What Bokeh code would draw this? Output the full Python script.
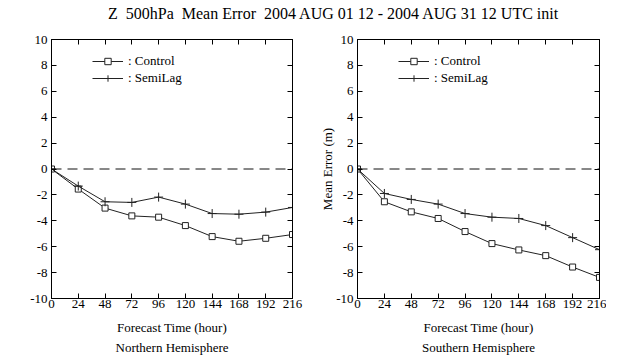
from bokeh.plotting import figure
from bokeh.models import (Legend, LegendItem, LinearAxis, FixedTicker, Span,
                          Title, Div, Range1d)
from bokeh.layouts import row, column
from bokeh.embed import file_html
from bokeh.resources import INLINE

hours = [0, 24, 48, 72, 96, 120, 144, 168, 192, 216]
y_ticks = [-10, -8, -6, -4, -2, 0, 2, 4, 6, 8, 10]
y_tick_labels = ["-10", "-8", "-6", "-4", "-2", "0", "2", "4", "6", "8", "10"]

nh_control = [0.0, -1.55, -3.02, -3.62, -3.72, -4.37, -5.22, -5.58, -5.35, -5.06]
nh_semilag = [0.0, -1.32, -2.53, -2.58, -2.17, -2.71, -3.44, -3.49, -3.33, -2.97]
sh_control = [0.0, -2.53, -3.31, -3.82, -4.83, -5.76, -6.25, -6.69, -7.57, -8.37]
sh_semilag = [0.0, -1.89, -2.35, -2.71, -3.44, -3.72, -3.82, -4.37, -5.30, -6.23]

title_text = "Z  500hPa  Mean Error  2004 AUG 01 12 - 2004 AUG 31 12 UTC init"
xlabel = "Forecast Time (hour)"
ylabel = "Mean Error (m)"

FONT = "'Liberation Serif', 'Times New Roman', serif"
FS = "13px"
LC = "#222222"


def panel(ctrl, semi, subtitle, show_ylabel, width, border_right):
    p = figure(width=width, height=328, x_range=Range1d(0, 216),
               y_range=Range1d(-10, 10), output_backend="svg",
               toolbar_location=None, min_border_left=51,
               min_border_right=border_right, min_border_top=9,
               min_border_bottom=60)
    p.xgrid.visible = False
    p.ygrid.visible = False
    p.outline_line_color = "black"
    p.background_fill_color = "white"
    p.border_fill_color = "white"

    p.xaxis.ticker = FixedTicker(ticks=hours)
    p.yaxis.ticker = FixedTicker(ticks=y_ticks)
    p.yaxis.major_label_overrides = dict(zip(y_ticks, y_tick_labels))
    for ax in p.xaxis + p.yaxis:
        ax.major_tick_in = 5
        ax.major_tick_out = 0
        ax.minor_tick_line_color = None
        ax.axis_line_color = "black"
        ax.major_label_text_font = FONT
        ax.major_label_text_font_size = FS
        ax.major_label_text_color = "black"
        ax.axis_label_text_font = FONT
        ax.axis_label_text_font_size = FS
        ax.axis_label_text_font_style = "normal"
        ax.axis_label_text_color = "black"
    p.xaxis.major_label_standoff = 1
    p.yaxis.major_label_standoff = 4
    p.xaxis.axis_label = xlabel
    p.xaxis.axis_label_standoff = 9
    if show_ylabel:
        p.yaxis.axis_label = ylabel
        p.yaxis.axis_label_standoff = -2

    top = LinearAxis(ticker=FixedTicker(ticks=hours))
    right = LinearAxis(ticker=FixedTicker(ticks=y_ticks))
    for ax in (top, right):
        ax.major_tick_in = 5
        ax.major_tick_out = 0
        ax.minor_tick_line_color = None
        ax.axis_line_color = "black"
        ax.major_label_text_color = None
        ax.major_label_standoff = 0
    p.add_layout(top, "above")
    p.add_layout(right, "right")

    p.add_layout(Span(location=0, dimension="width", line_color="#111111",
                      line_width=1, line_dash="10 6"))

    lc = p.line(hours, ctrl, line_color=LC, line_width=1)
    mc = p.scatter(hours, ctrl, marker="square", size=6, fill_color="white",
                   line_color=LC, line_width=1)
    ls = p.line(hours, semi, line_color=LC, line_width=1)
    ms = p.scatter(hours, semi, marker="cross", size=9, line_color=LC,
                   line_width=1)

    leg = Legend(items=[LegendItem(label=": Control", renderers=[lc, mc]),
                        LegendItem(label=": SemiLag", renderers=[ls, ms])],
                 location=(41, 212), border_line_color=None,
                 background_fill_alpha=0, padding=0, margin=0, spacing=1,
                 glyph_width=31, glyph_height=16, label_height=16,
                 label_standoff=5, label_text_font=FONT,
                 label_text_font_size=FS, label_text_color="black")
    p.add_layout(leg)

    p.add_layout(Title(text=subtitle, align="center", text_font=FONT,
                       text_font_size=FS, text_font_style="normal",
                       text_color="black", standoff=0), "below")
    return p


p1 = panel(nh_control, nh_semilag, "Northern Hemisphere", False, 306, 14)
p2 = panel(sh_control, sh_semilag, "Southern Hemisphere", True, 300, 7)

head = Div(text='<div style="margin-left:103px;white-space:pre;font-family:\'Liberation Serif\';'
                'font-size:16px;line-height:18px;color:black;">' + title_text + '</div>',
           width=606, height=20)

layout = column(head, row(p1, p2))

open("out.html", "w").write(file_html(layout, INLINE))
